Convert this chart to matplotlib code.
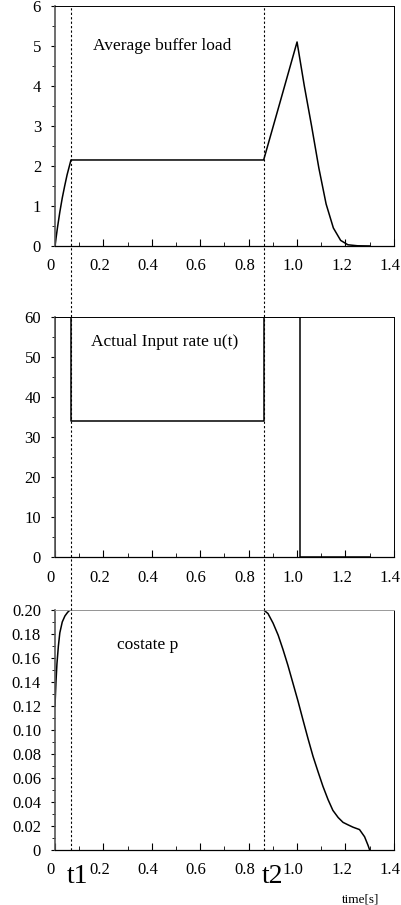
import numpy as np
import matplotlib
matplotlib.use("Agg")
import matplotlib.pyplot as plt
from matplotlib.lines import Line2D
from matplotlib.ticker import MultipleLocator, FuncFormatter
import matplotlib.transforms as mtransforms

plt.rcParams["font.family"] = ["Liberation Serif", "DejaVu Serif"]

# switching times
t1 = 0.066
t2 = 0.862

# average buffer load
load_t = [0.0, 0.01, 0.02, 0.03, 0.04, 0.05, 0.066, 0.862, 0.93, 1.0,
          1.03, 1.06, 1.09, 1.12, 1.15, 1.18, 1.21, 1.25, 1.3]
load_v = [0.0, 0.45, 0.85, 1.2, 1.5, 1.78, 2.15, 2.15, 3.6, 5.1,
          4.0, 3.0, 1.95, 1.05, 0.45, 0.14, 0.03, 0.005, 0.0]

# actual input rate (step changes)
rate_t = [0.0, 0.066, 0.862, 1.011, 1.3]
rate_v = [60, 34, 60, 0, 0]

# costate p
cost_t = [0.0, 0.004, 0.008, 0.014, 0.02, 0.03, 0.041, 0.052, 0.062, 0.862,
          0.88, 0.901, 0.922, 0.942, 0.962, 0.983, 1.004, 1.025, 1.045, 1.066,
          1.087, 1.107, 1.128, 1.148, 1.17, 1.19, 1.21, 1.231, 1.258, 1.279,
          1.293, 1.3]
cost_v = [0.12, 0.14, 0.155, 0.17, 0.181, 0.19, 0.195, 0.198, 0.2, 0.2,
          0.197, 0.189, 0.179, 0.167, 0.154, 0.139, 0.124, 0.108, 0.093, 0.078,
          0.065, 0.053, 0.042, 0.033, 0.027, 0.023, 0.021, 0.019, 0.017, 0.011,
          0.004, 0.0]

fig = plt.figure(figsize=(4.02, 9.05), dpi=100)
L, W, H = 0.1368, 0.843, 0.2652
ax1 = fig.add_axes([L, 0.7282, W, H])
ax2 = fig.add_axes([L, 0.3845, W, H])
ax3 = fig.add_axes([L, 0.0608, W, H])

ax1.plot(load_t, load_v, color="black", lw=1.1)
ax2.step(rate_t, rate_v, where="post", color="black", lw=1.1)
ax2.plot([0, 0], [0, 60], color="black", lw=1.1)
ax3.plot(cost_t, cost_v, color="black", lw=1.1)

ax1.set_ylim(0, 6)
ax2.set_ylim(0, 60)
ax3.set_ylim(0, 0.2)
ax1.yaxis.set_major_locator(MultipleLocator(1))
ax1.yaxis.set_minor_locator(MultipleLocator(0.5))
ax2.yaxis.set_major_locator(MultipleLocator(10))
ax2.yaxis.set_minor_locator(MultipleLocator(5))
ax3.yaxis.set_major_locator(MultipleLocator(0.02))
ax3.yaxis.set_minor_locator(MultipleLocator(0.01))
ax3.yaxis.set_major_formatter(FuncFormatter(lambda v, p: "0" if abs(v) < 1e-9 else f"{v:.2f}"))

xfmt = FuncFormatter(lambda v, p: "0" if abs(v) < 1e-9 else f"{v:.1f}")
shift = mtransforms.ScaledTranslation(-4 / 100, 0, fig.dpi_scale_trans)
for ax in (ax1, ax2, ax3):
    ax.set_xlim(0, 1.4)
    ax.xaxis.set_major_locator(MultipleLocator(0.2))
    ax.xaxis.set_minor_locator(MultipleLocator(0.1))
    ax.xaxis.set_major_formatter(xfmt)
    ax.tick_params(axis="x", which="major", direction="in", length=5, width=0.8,
                   labelsize=12, pad=9)
    ax.tick_params(axis="x", which="minor", direction="in", length=3, width=0.6)
    ax.tick_params(axis="y", which="major", direction="out", length=3, width=0.8,
                   labelsize=12, pad=7)
    ax.tick_params(axis="y", which="minor", direction="out", length=2, width=0.6)
    for s in ("top", "right"):
        ax.spines[s].set_linewidth(0.7)
    ax.spines["left"].set_linewidth(1.2)
    ax.spines["left"].set_color("#555555")
    ax.spines["bottom"].set_linewidth(0.9)
    for lab in ax.get_xticklabels():
        lab.set_transform(lab.get_transform() + shift)
ax3.spines["top"].set_color("#999999")

ax1.text(0.157, 5.0, "Average buffer load", fontsize=12.5, va="center")
ax2.text(0.147, 53.8, "Actual Input rate u(t)", fontsize=12.5, va="center")
ax3.text(0.255, 0.171, "costate p", fontsize=12.5, va="center")

# dotted switching-time lines spanning all panels
tr = mtransforms.blended_transform_factory(ax3.transData, fig.transFigure)
for tv in (t1, t2):
    fig.add_artist(Line2D([tv, tv], [0.0608, 0.9934], transform=tr,
                          color="black", lw=0.8, ls=(0, (2, 2))))

ax3.text(t1 - 0.017, -0.0115, "t1", fontsize=20, ha="left", va="top")
ax3.text(t2 - 0.008, -0.0115, "t2", fontsize=20, ha="left", va="top")
ax3.text(1.262, -0.0365, "time[s]", fontsize=9.5, ha="center", va="top")

fig.savefig("out.png", dpi=100)
